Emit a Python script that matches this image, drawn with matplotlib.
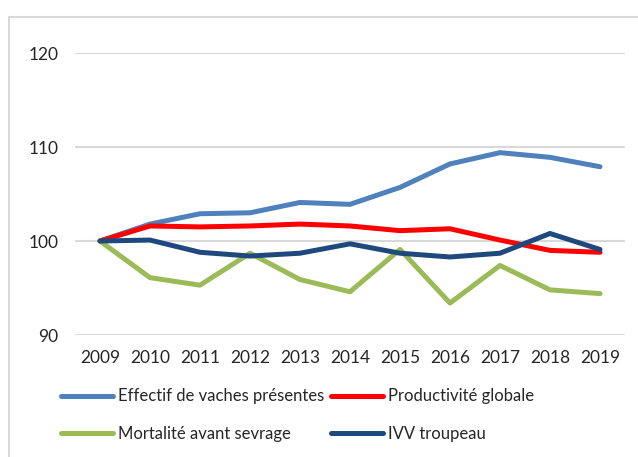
import matplotlib.pyplot as plt
from matplotlib.patches import Rectangle

# data (index, 2009 = 100)
years = ["2009", "2010", "2011", "2012", "2013", "2014", "2015", "2016", "2017", "2018", "2019"]
effectif = [100, 101.8, 102.9, 103.0, 104.1, 103.9, 105.7, 108.2, 109.4, 108.9, 107.9]
productivite = [100, 101.6, 101.5, 101.6, 101.8, 101.6, 101.1, 101.3, 100.1, 99.0, 98.8]
mortalite = [100, 96.1, 95.3, 98.7, 95.9, 94.6, 99.1, 93.4, 97.4, 94.8, 94.4]
ivv = [100, 100.1, 98.8, 98.4, 98.7, 99.7, 98.7, 98.3, 98.7, 100.8, 99.1]

labels = ["Effectif de vaches présentes", "Productivité globale",
          "Mortalité avant sevrage", "IVV troupeau"]
colors = ["#4f81bd", "#ff0000", "#9bbb59", "#1f497d"]

plt.rcParams["font.family"] = ["Lato", "DejaVu Sans"]

W, H = 638, 457
fig = plt.figure(figsize=(W / 100, H / 100), dpi=100)

# chart area frame (runs off the right and bottom edge)
fig.patches.append(Rectangle((9 / W, -0.1), 1.2, 1 - 17 / H + 0.1,
                             transform=fig.transFigure, fill=False,
                             edgecolor="#d9d9d9", linewidth=1.5))

ax = fig.add_axes([75 / W, 1 - 335 / H, 550 / W, 282 / H])
x = range(len(years))
lines = []
for vals, col, lab in zip([effectif, productivite, mortalite, ivv], colors, labels):
    ln, = ax.plot(x, vals, color=col, linewidth=3.6, label=lab,
                  solid_capstyle="round", solid_joinstyle="round", zorder=3)
    lines.append(ln)

ax.set_xlim(-0.5, len(years) - 0.5)
ax.set_ylim(90, 120)
ax.set_yticks([90, 100, 110, 120])
ax.set_xticks(list(x))
ax.set_xticklabels(years)
ax.yaxis.grid(True, color="#d9d9d9", linewidth=1.5, zorder=0)
ax.set_axisbelow(True)
for s in ax.spines.values():
    s.set_visible(False)
ax.tick_params(axis="both", length=0, labelsize=12.5, colors="#262626")
ax.tick_params(axis="y", pad=12)
ax.tick_params(axis="x", pad=11)

# legend laid out row by row like the original
order = [0, 2, 1, 3]
fig.legend([lines[i] for i in order], [labels[i] for i in order],
           loc="upper left", bbox_to_anchor=(53 / W, 1 - 380 / H),
           ncol=2, frameon=False, fontsize=12, handlelength=3.1,
           handletextpad=0.3, columnspacing=0.4, labelspacing=1.3,
           borderpad=0, labelcolor="#262626")

fig.savefig("out.png", dpi=100)
